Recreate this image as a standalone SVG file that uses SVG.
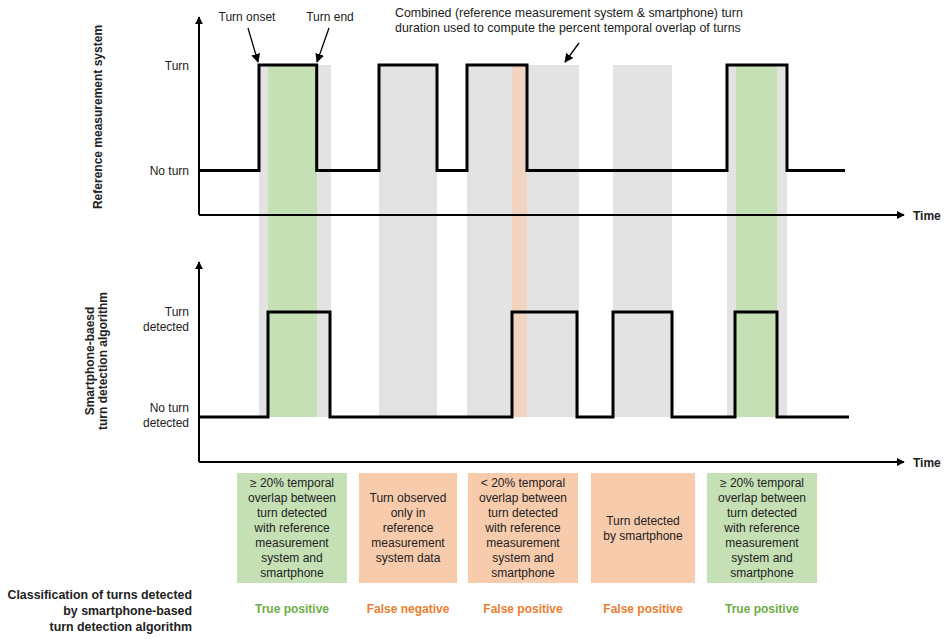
<svg xmlns="http://www.w3.org/2000/svg" width="948" height="639" viewBox="0 0 948 639">
<defs>
<style>
text{font-family:"Liberation Sans",Arial,sans-serif;font-size:12px;fill:#222}
.b{font-weight:bold}
.r{text-anchor:end}
.m{text-anchor:middle}
.big{font-size:12.4px}
.axis{stroke:#000;stroke-width:2;fill:none}
.sig{stroke:#000;stroke-width:3;fill:none;stroke-linejoin:miter}
.ann{stroke:#000;stroke-width:1.3;fill:none}
.gray{fill:#e3e3e3}
.green{fill:#c5e0b4}
.orange{fill:#f8cbad}
.obar{fill:#f0d4c0}
.tg{fill:#70ad47;font-weight:bold}
.to{fill:#ed7d31;font-weight:bold}
</style>
<marker id="ah" viewBox="0 0 10 10" refX="9" refY="5" markerWidth="8" markerHeight="8" markerUnits="userSpaceOnUse" orient="auto">
<path d="M0,0 L10,5 L0,10 z" fill="#000"/>
</marker>
<marker id="ah2" viewBox="0 0 10 10" refX="9" refY="5" markerWidth="9" markerHeight="9" markerUnits="userSpaceOnUse" orient="auto">
<path d="M0,0 L10,5 L0,10 z" fill="#000"/>
</marker>
</defs>

<g id="bands">
<rect class="gray" x="259" y="65" width="72" height="352"/>
<rect class="green" x="268" y="65" width="49" height="352"/>
<rect class="gray" x="379" y="65" width="58" height="352"/>
<rect class="gray" x="467" y="65" width="112" height="352"/>
<rect class="obar" x="512" y="65" width="15" height="352"/>
<rect class="gray" x="613" y="65" width="59" height="352"/>
<rect class="gray" x="727" y="65" width="60" height="352"/>
<rect class="green" x="736" y="65" width="41" height="352"/>
</g>

<g id="connectors">
<path class="axis" d="M199,215 V17" marker-end="url(#ah)"/>
<path class="axis" d="M199,215 H904" marker-end="url(#ah)"/>
<path class="axis" d="M199,462 V262" marker-end="url(#ah)"/>
<path class="axis" d="M199,462 H904" marker-end="url(#ah)"/>
<path class="sig" d="M199,170.5 H259 V65 H316.7 V170.5 H379 V65 H437 V170.5 H467 V65 H527 V170.5 H727 V65 H787 V170.5 H845"/>
<path class="sig" d="M199,417 H268 V312 H330 V417 H512 V312 H577 V417 H613 V312 H672 V417 H735 V312 H777 V417 H849"/>
<path class="ann" d="M248,28 L258,62" marker-end="url(#ah2)"/>
<path class="ann" d="M329,28 L317,62" marker-end="url(#ah2)"/>
<path class="ann" d="M579,43 L565,62" marker-end="url(#ah2)"/>
</g>

<g id="ref-axis-labels">
<text class="b m" transform="translate(102,117) rotate(-90)">Reference measurement system</text>
<text class="r" x="189" y="70">Turn</text>
<text class="r" x="189" y="175">No turn</text>
<text class="b" x="913" y="220">Time</text>
</g>

<g id="phone-axis-labels">
<text class="b m" transform="translate(94,361) rotate(-90)">Smartphone-baesd</text>
<text class="b m" transform="translate(107,361) rotate(-90)">turn detection algorithm</text>
<text class="r" x="189" y="316">Turn</text>
<text class="r" x="189" y="331">detected</text>
<text class="r" x="189" y="412">No turn</text>
<text class="r" x="189" y="427">detected</text>
<text class="b" x="913" y="467">Time</text>
</g>

<g id="annotations">
<text class="m" x="247" y="21">Turn onset</text>
<text class="m" x="330" y="21">Turn end</text>
<text class="big" x="395" y="17">Combined (reference measurement system &amp; smartphone) turn</text>
<text class="big" x="395" y="32">duration used to compute the percent temporal overlap of turns</text>
</g>

<g id="box1">
<rect class="green" x="237" y="473" width="110" height="110"/>
<text class="m" x="292" y="487">≥ 20% temporal</text>
<text class="m" x="292" y="502">overlap between</text>
<text class="m" x="292" y="517">turn detected</text>
<text class="m" x="292" y="532">with reference</text>
<text class="m" x="292" y="547">measurement</text>
<text class="m" x="292" y="562">system and</text>
<text class="m" x="292" y="577">smartphone</text>
<text class="m tg" x="292" y="613">True positive</text>
</g>

<g id="box2">
<rect class="orange" x="359" y="473" width="98" height="110"/>
<text class="m" x="408" y="502">Turn observed</text>
<text class="m" x="408" y="517">only in</text>
<text class="m" x="408" y="532">reference</text>
<text class="m" x="408" y="547">measurement</text>
<text class="m" x="408" y="562">system data</text>
<text class="m to" x="408" y="613">False negative</text>
</g>

<g id="box3">
<rect class="orange" x="468" y="473" width="110" height="110"/>
<text class="m" x="523" y="487">&lt; 20% temporal</text>
<text class="m" x="523" y="502">overlap between</text>
<text class="m" x="523" y="517">turn detected</text>
<text class="m" x="523" y="532">with reference</text>
<text class="m" x="523" y="547">measurement</text>
<text class="m" x="523" y="562">system and</text>
<text class="m" x="523" y="577">smartphone</text>
<text class="m to" x="523" y="613">False positive</text>
</g>

<g id="box4">
<rect class="orange" x="591" y="473" width="104" height="110"/>
<text class="m" x="643" y="525">Turn detected</text>
<text class="m" x="643" y="540">by smartphone</text>
<text class="m to" x="643" y="613">False positive</text>
</g>

<g id="box5">
<rect class="green" x="707" y="473" width="110" height="110"/>
<text class="m" x="762" y="487">≥ 20% temporal</text>
<text class="m" x="762" y="502">overlap between</text>
<text class="m" x="762" y="517">turn detected</text>
<text class="m" x="762" y="532">with reference</text>
<text class="m" x="762" y="547">measurement</text>
<text class="m" x="762" y="562">system and</text>
<text class="m" x="762" y="577">smartphone</text>
<text class="m tg" x="762" y="613">True positive</text>
</g>

<g id="classification-label">
<text class="b r big" x="192" y="599">Classification of turns detected</text>
<text class="b r big" x="192" y="615">by smartphone-based</text>
<text class="b r big" x="192" y="631">turn detection algorithm</text>
</g>
</svg>
